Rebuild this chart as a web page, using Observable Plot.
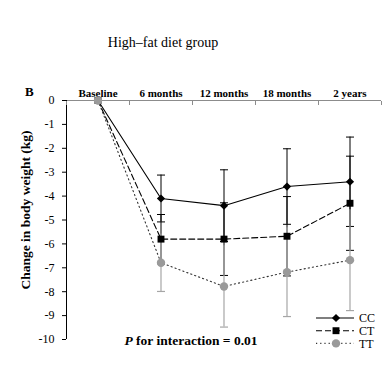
<!DOCTYPE html>
<html>
<head>
<meta charset="utf-8">
<script src="https://cdn.jsdelivr.net/npm/d3@7"></script>
<script src="https://cdn.jsdelivr.net/npm/@observablehq/plot@0.6"></script>
<style>
  html, body { margin: 0; padding: 0; background: #fff; }
  #chart svg { display: block; }
</style>
</head>
<body>
<div id="chart"></div>
<script>
// ---- data ----
const timepoints = ["Baseline", "6 months", "12 months", "18 months", "2 years"];
const genotypes = ["CC", "CT", "TT"];
const ccMean = [0, -4.1, -4.4, -3.6, -3.4];
const ccSD   = [0, 0.98, 1.5, 1.58, 1.87];
const ctMean = [0, -5.8, -5.8, -5.68, -4.3];
const ctSD   = [0, 1.03, 1.52, 1.66, 1.97];
const ttMean = [0, -6.79, -7.78, -7.18, -6.68];
const ttSD   = [0, 1.2, 1.7, 1.86, 2.11];
const yTicks = [0, -1, -2, -3, -4, -5, -6, -7, -8, -9, -10];
const title = "High\u2013fat diet group";
const panelLabel = "B";
const yLabel = "Change in body weight (kg)";
const pLabel = " for interaction = 0.01";

// ---- build tables ----
const idx = timepoints.map((_, i) => i);
const bounds = d3.range(-0.5, timepoints.length, 1);
const rows = (mean, sd, g) => idx.map(i => ({i, g, m: mean[i], lo: mean[i] - sd[i], hi: mean[i] + sd[i]}));
const cc = rows(ccMean, ccSD, "CC");
const ct = rows(ctMean, ctSD, "CT");
const tt = rows(ttMean, ttSD, "TT");
const withBar = d => d.i > 0;

const capSymbol = {draw(ctx, size) { const r = Math.sqrt(size / Math.PI); ctx.moveTo(-r, 0); ctx.lineTo(r, 0); }};
const font = "Liberation Serif, Times New Roman, serif";
const gray = "#a6a6a6";

const styles = {
  CC: {line: {stroke: "#000", strokeWidth: 1.1}, symbol: "diamond2", r: 3.7, fill: "#000"},
  CT: {line: {stroke: "#000", strokeWidth: 1.1, strokeDasharray: "6,3"}, symbol: "square", r: 3.9, fill: "#000"},
  TT: {line: {stroke: "#333", strokeWidth: 1.1, strokeDasharray: "1.2,3"}, symbol: "circle", r: 4.2, fill: "#9a9a9a"}
};

const plot = Plot.plot({
  width: 388,
  height: 378,
  marginLeft: 66,
  marginRight: 7,
  marginTop: 100,
  marginBottom: 39,
  style: {fontFamily: font, background: "#fff", color: "#000"},
  x: {type: "linear", domain: [-0.5, timepoints.length - 0.5], axis: null},
  y: {domain: [-10, 0], axis: null},
  marks: [
    // axes
    Plot.ruleY([0], {stroke: "#8c8c8c", strokeWidth: 1.2}),
    Plot.ruleX([-0.5], {stroke: "#000", strokeWidth: 1}),
    Plot.axisX(bounds, {anchor: "top", tickSize: -4, tickFormat: () => "", stroke: "#8c8c8c", label: null}),
    Plot.axisX(idx, {anchor: "top", tickSize: 0, tickPadding: 4, tickFormat: i => timepoints[i],
      fontWeight: "bold", fontSize: 11, label: null}),
    Plot.axisY(yTicks, {anchor: "left", tickSize: 4, tickPadding: 8, tickFormat: d => String(d),
      fontSize: 12, label: null}),
    // lines
    Plot.line(cc, {x: "i", y: "m", ...styles.CC.line}),
    Plot.line(ct, {x: "i", y: "m", ...styles.CT.line}),
    Plot.line(tt, {x: "i", y: "m", ...styles.TT.line}),
    // black error bars (CC, CT)
    Plot.ruleX([...cc, ...ct].filter(withBar), {x: "i", y1: "lo", y2: "hi", stroke: "#000", strokeWidth: 1}),
    Plot.dot([...cc, ...ct].filter(withBar), {x: "i", y: "lo", symbol: capSymbol, r: 4, stroke: "#000", strokeWidth: 1}),
    Plot.dot([...cc, ...ct].filter(withBar), {x: "i", y: "hi", symbol: capSymbol, r: 4, stroke: "#000", strokeWidth: 1}),
    // gray error bars (TT, lower cap only)
    Plot.ruleX(tt.filter(withBar), {x: "i", y1: "lo", y2: "hi", stroke: gray, strokeWidth: 1.2}),
    Plot.dot(tt.filter(withBar), {x: "i", y: "lo", symbol: capSymbol, r: 4, stroke: gray, strokeWidth: 1.2}),
    // markers
    Plot.dot(cc, {x: "i", y: "m", symbol: styles.CC.symbol, r: styles.CC.r, fill: styles.CC.fill, stroke: "none"}),
    Plot.dot(ct, {x: "i", y: "m", symbol: styles.CT.symbol, r: styles.CT.r, fill: styles.CT.fill, stroke: "none"}),
    Plot.dot(tt, {x: "i", y: "m", symbol: styles.TT.symbol, r: styles.TT.r, fill: styles.TT.fill, stroke: "none"})
  ]
});

const svg = d3.select(plot);
// title
svg.append("text").attr("x", 163).attr("y", 47).attr("text-anchor", "middle")
  .attr("font-family", font).attr("font-size", 14).attr("fill", "#000").text(title);
// panel label
svg.append("text").attr("x", 25).attr("y", 96).attr("text-anchor", "start")
  .attr("font-family", font).attr("font-size", 13).attr("font-weight", "bold").attr("fill", "#000").text(panelLabel);
// y label
svg.append("text").attr("transform", "translate(30,210) rotate(-90)").attr("text-anchor", "middle")
  .attr("font-family", font).attr("font-size", 13.5).attr("font-weight", "bold").attr("fill", "#000").text(yLabel);
// P for interaction
const pt = svg.append("text").attr("x", 191).attr("y", 345).attr("text-anchor", "middle")
  .attr("font-family", font).attr("font-size", 13.5).attr("font-weight", "bold").attr("fill", "#000");
pt.append("tspan").attr("font-style", "italic").text("P");
pt.append("tspan").text(pLabel);
// legend
const lg = svg.append("g").attr("transform", "translate(316,318)");
genotypes.forEach((g, k) => {
  const s = styles[g];
  const row = lg.append("g").attr("transform", `translate(0,${k * 12.7})`);
  row.append("line").attr("x1", 0).attr("x2", 38).attr("y1", 0).attr("y2", 0)
    .attr("stroke", s.line.stroke).attr("stroke-width", s.line.strokeWidth)
    .attr("stroke-dasharray", s.line.strokeDasharray || null);
  const sym = {diamond2: d3.symbolDiamond2, square: d3.symbolSquare, circle: d3.symbolCircle}[s.symbol];
  row.append("path").attr("transform", "translate(20,0)")
    .attr("d", d3.symbol(sym, s.r * s.r * Math.PI)()).attr("fill", s.fill);
  row.append("text").attr("x", 43).attr("y", 4.2).attr("text-anchor", "start")
    .attr("font-family", font).attr("font-size", 12).attr("fill", "#000").text(g);
});

document.getElementById("chart").appendChild(plot);
</script>
</body>
</html>
